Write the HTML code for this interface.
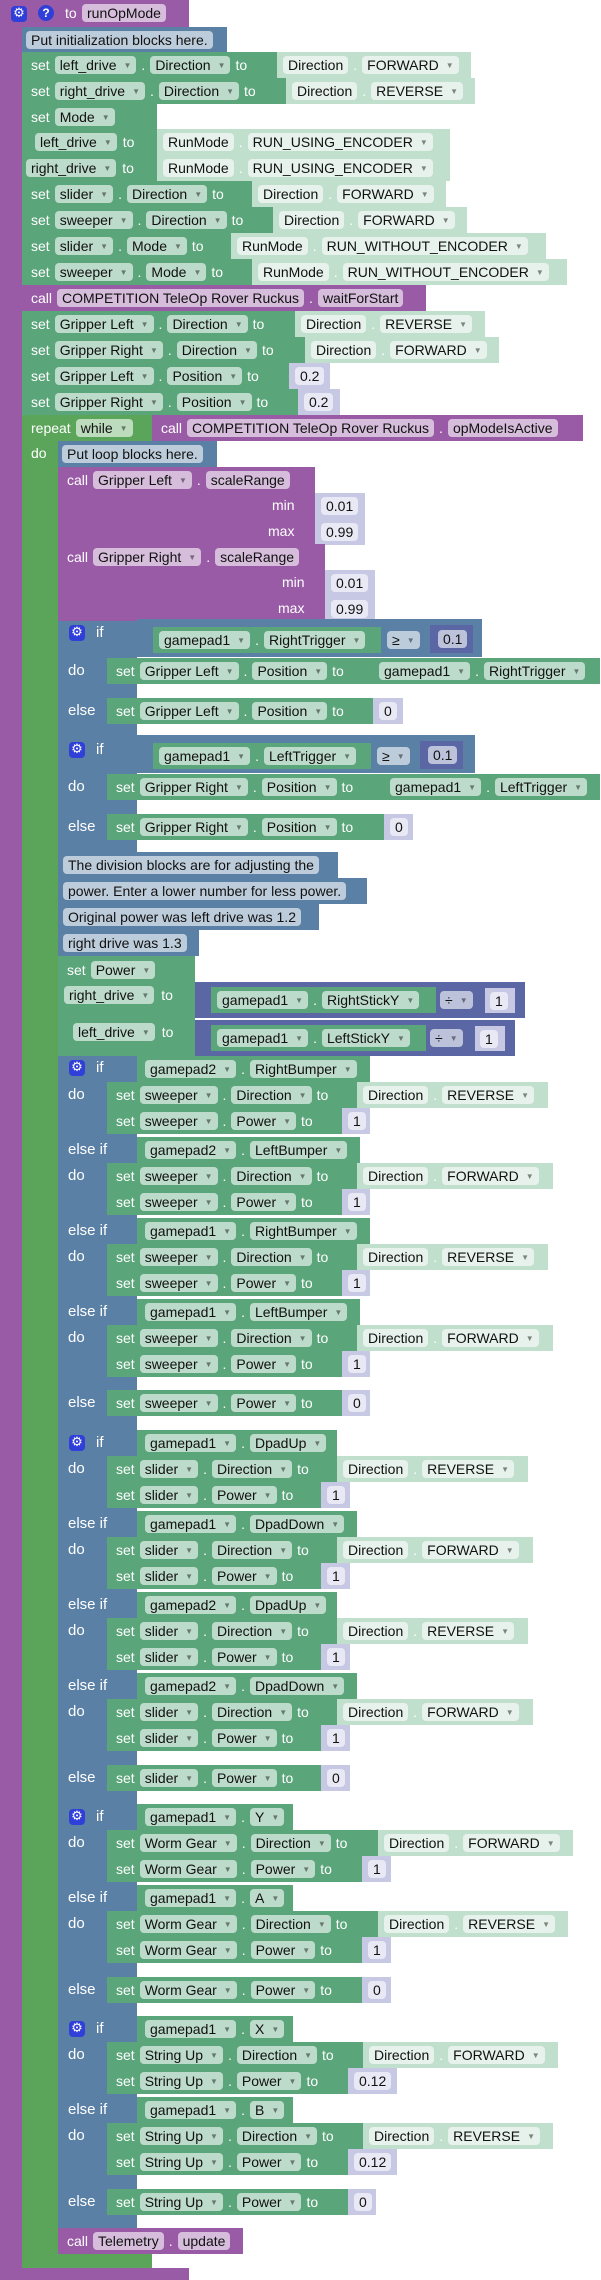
<!DOCTYPE html>
<html><head><meta charset="utf-8"><style>
body{margin:0;width:601px;height:2280px;position:relative;background:#fff;font-family:"Liberation Sans",sans-serif;font-size:14px;overflow:hidden}
.a{position:absolute}
.row{position:absolute;display:flex;height:26px}
.b{display:flex;align-items:center;height:26px;padding:0 5px 0 9px;gap:5px;color:#fff;box-sizing:border-box;white-space:nowrap;flex:none;overflow:hidden}
.b i,.f{font-style:normal;background:rgba(255,255,255,.6);color:#111;border-radius:4px;height:18px;line-height:18px;padding:0 5px;white-space:nowrap}
.b s,.f s{text-decoration:none;font-size:8px;color:rgba(0,0,0,.45);margin-left:7px;vertical-align:2px}
.g{background:#5ba57a}
.lp{background:#5ba55b}
.v{background:#c0dfcc;padding-left:6px}
.n{background:#c6c8e4;padding-left:6px}
.p{background:#995ba5}
.bl{background:#5b80a5}
.m{background:#5b67a5}
.lbl{position:absolute;left:68px;height:26px;line-height:26px;color:#fff;font-size:15px}
.gear{position:absolute;left:69px;width:16px;height:16px;background:#2f3fd8;border-radius:4px;color:#fff;font-size:13px;line-height:16px;text-align:center;font-family:"DejaVu Sans",sans-serif}
.t{position:absolute;color:#fff;height:26px;line-height:26px}
</style></head><body>
<!-- procedure frame -->
<div class="a p" style="left:0;top:0;width:22px;height:2280px"></div>
<div class="a p" style="left:0;top:0;width:189px;height:27px"></div>
<div class="a p" style="left:0;top:2268px;width:189px;height:12px"></div>
<div class="gear" style="left:11px;top:6px">⚙</div>
<div class="a" style="left:38px;top:5px;width:16px;height:16px;border-radius:8px;background:#2f3fd8;color:#fff;font-weight:bold;font-size:12px;line-height:16px;text-align:center">?</div>
<div class="t" style="left:65px;top:0">to</div>
<div class="a f" style="left:82px;top:4px;background:#d6bddb">runOpMode</div>

<div class="row" style="left:22px;top:27px"><div class="b bl" style="width:205px;padding-left:4px"><i>Put initialization blocks here.</i></div></div>

<div class="row" style="left:22px;top:52px"><div class="b g" style="width:255px">set<i>left_drive<s>▼</s></i>.<i>Direction<s>▼</s></i>to</div><div class="b v" style="width:194px"><i>Direction</i>.<i>FORWARD<s>▼</s></i></div></div>
<div class="row" style="left:22px;top:78px"><div class="b g" style="width:264px">set<i>right_drive<s>▼</s></i>.<i>Direction<s>▼</s></i>to</div><div class="b v" style="width:189px"><i>Direction</i>.<i>REVERSE<s>▼</s></i></div></div>
<div class="a g" style="left:22px;top:104px;width:135px;height:77px"></div>
<div class="row" style="left:22px;top:104px"><div class="b g">set<i>Mode<s>▼</s></i></div></div>
<div class="row" style="left:35px;top:129px"><div class="b" style="padding:0;gap:6px"><i>left_drive<s>▼</s></i>to</div></div>
<div class="row" style="left:26px;top:155px"><div class="b" style="padding:0;gap:6px"><i>right_drive<s>▼</s></i>to</div></div>
<div class="row" style="left:157px;top:129px"><div class="b v" style="width:293px"><i>RunMode</i>.<i>RUN_USING_ENCODER<s>▼</s></i></div></div>
<div class="row" style="left:157px;top:155px"><div class="b v" style="width:293px"><i>RunMode</i>.<i>RUN_USING_ENCODER<s>▼</s></i></div></div>
<div class="row" style="left:22px;top:181px"><div class="b g" style="width:230px">set<i>slider<s>▼</s></i>.<i>Direction<s>▼</s></i>to</div><div class="b v" style="width:194px"><i>Direction</i>.<i>FORWARD<s>▼</s></i></div></div>
<div class="row" style="left:22px;top:207px"><div class="b g" style="width:251px">set<i>sweeper<s>▼</s></i>.<i>Direction<s>▼</s></i>to</div><div class="b v" style="width:194px"><i>Direction</i>.<i>FORWARD<s>▼</s></i></div></div>
<div class="row" style="left:22px;top:233px"><div class="b g" style="width:209px">set<i>slider<s>▼</s></i>.<i>Mode<s>▼</s></i>to</div><div class="b v" style="width:315px"><i>RunMode</i>.<i>RUN_WITHOUT_ENCODER<s>▼</s></i></div></div>
<div class="row" style="left:22px;top:259px"><div class="b g" style="width:230px">set<i>sweeper<s>▼</s></i>.<i>Mode<s>▼</s></i>to</div><div class="b v" style="width:315px"><i>RunMode</i>.<i>RUN_WITHOUT_ENCODER<s>▼</s></i></div></div>
<div class="row" style="left:22px;top:285px"><div class="b p" style="width:404px">call<i>COMPETITION TeleOp Rover Ruckus</i>.<i>waitForStart</i></div></div>
<div class="row" style="left:22px;top:311px"><div class="b g" style="width:273px">set<i>Gripper Left<s>▼</s></i>.<i>Direction<s>▼</s></i>to</div><div class="b v" style="width:190px"><i>Direction</i>.<i>REVERSE<s>▼</s></i></div></div>
<div class="row" style="left:22px;top:337px"><div class="b g" style="width:283px">set<i>Gripper Right<s>▼</s></i>.<i>Direction<s>▼</s></i>to</div><div class="b v" style="width:194px"><i>Direction</i>.<i>FORWARD<s>▼</s></i></div></div>
<div class="row" style="left:22px;top:363px"><div class="b g" style="width:267px">set<i>Gripper Left<s>▼</s></i>.<i>Position<s>▼</s></i>to</div><div class="b n" style="width:41px"><i>0.2</i></div></div>
<div class="row" style="left:22px;top:389px"><div class="b g" style="width:276px">set<i>Gripper Right<s>▼</s></i>.<i>Position<s>▼</s></i>to</div><div class="b n" style="width:42px"><i>0.2</i></div></div>

<!-- repeat loop -->
<div class="a lp" style="left:22px;top:415px;width:36px;height:1853px"></div>
<div class="a lp" style="left:22px;top:2253px;width:130px;height:15px"></div>
<div class="row" style="left:22px;top:415px"><div class="b lp" style="width:130px">repeat<i>while<s>▼</s></i></div><div class="b p" style="width:431px">call<i>COMPETITION TeleOp Rover Ruckus</i>.<i>opModeIsActive</i></div></div>
<div class="t" style="left:31px;top:440px">do</div>
<div class="row" style="left:58px;top:441px"><div class="b bl" style="width:159px;padding-left:4px"><i>Put loop blocks here.</i></div></div>

<!-- scaleRange -->
<div class="a p" style="left:58px;top:467px;width:257px;height:77px"></div>
<div class="row" style="left:58px;top:467px"><div class="b p">call<i>Gripper Left<s>▼</s></i>.<i>scaleRange</i></div></div>
<div class="t" style="left:272px;top:492px">min</div><div class="row" style="left:315px;top:493px"><div class="b n" style="width:50px"><i>0.01</i></div></div>
<div class="t" style="left:268px;top:518px">max</div><div class="row" style="left:315px;top:519px"><div class="b n" style="width:50px"><i>0.99</i></div></div>
<div class="a p" style="left:58px;top:544px;width:267px;height:77px"></div>
<div class="row" style="left:58px;top:544px"><div class="b p">call<i>Gripper Right<s>▼</s></i>.<i>scaleRange</i></div></div>
<div class="t" style="left:282px;top:569px">min</div><div class="row" style="left:325px;top:570px"><div class="b n" style="width:50px"><i>0.01</i></div></div>
<div class="t" style="left:278px;top:595px">max</div><div class="row" style="left:325px;top:596px"><div class="b n" style="width:50px"><i>0.99</i></div></div>

<!-- if1 -->
<div class="a bl" style="left:58px;top:621px;width:79px;height:116px"></div>
<div class="a bl" style="left:137px;top:619px;width:345px;height:38px"></div>
<div class="gear" style="top:625px">⚙</div><div class="t" style="left:96px;top:620px;font-size:15px">if</div>
<div class="row" style="left:153px;top:627px"><div class="b g" style="width:228px;padding-left:6px"><i>gamepad1<s>▼</s></i>.<i>RightTrigger<s>▼</s></i></div></div>
<div class="a f" style="left:387px;top:631px;background:#bdccdb">≥<s>▼</s></div>
<div class="a m" style="left:430px;top:625px;width:43px;height:28px"></div><div class="a f" style="left:438px;top:630px;background:#bdc2db">0.1</div>
<div class="lbl" style="top:658px">do</div>
<div class="row" style="left:107px;top:658px"><div class="b g" style="width:266px">set<i>Gripper Left<s>▼</s></i>.<i>Position<s>▼</s></i>to</div><div class="b g" style="width:227px;padding-left:6px"><i>gamepad1<s>▼</s></i>.<i>RightTrigger<s>▼</s></i></div></div>
<div class="lbl" style="top:698px">else</div>
<div class="row" style="left:107px;top:698px"><div class="b g" style="width:266px">set<i>Gripper Left<s>▼</s></i>.<i>Position<s>▼</s></i>to</div><div class="b n" style="width:30px"><i>0</i></div></div>

<!-- if2 -->
<div class="a bl" style="left:58px;top:737px;width:79px;height:115px"></div>
<div class="a bl" style="left:137px;top:735px;width:338px;height:38px"></div>
<div class="gear" style="top:742px">⚙</div><div class="t" style="left:96px;top:737px;font-size:15px">if</div>
<div class="row" style="left:153px;top:743px"><div class="b g" style="width:218px;padding-left:6px"><i>gamepad1<s>▼</s></i>.<i>LeftTrigger<s>▼</s></i></div></div>
<div class="a f" style="left:377px;top:747px;background:#bdccdb">≥<s>▼</s></div>
<div class="a m" style="left:420px;top:741px;width:43px;height:28px"></div><div class="a f" style="left:428px;top:746px;background:#bdc2db">0.1</div>
<div class="lbl" style="top:774px">do</div>
<div class="row" style="left:107px;top:774px"><div class="b g" style="width:277px">set<i>Gripper Right<s>▼</s></i>.<i>Position<s>▼</s></i>to</div><div class="b g" style="width:216px;padding-left:6px"><i>gamepad1<s>▼</s></i>.<i>LeftTrigger<s>▼</s></i></div></div>
<div class="lbl" style="top:814px">else</div>
<div class="row" style="left:107px;top:814px"><div class="b g" style="width:277px">set<i>Gripper Right<s>▼</s></i>.<i>Position<s>▼</s></i>to</div><div class="b n" style="width:29px"><i>0</i></div></div>

<!-- comments -->
<div class="row" style="left:58px;top:852px"><div class="b bl" style="width:280px;padding-left:5px"><i>The division blocks are for adjusting the</i></div></div>
<div class="row" style="left:58px;top:878px"><div class="b bl" style="width:309px;padding-left:5px"><i>power. Enter a lower number for less power.</i></div></div>
<div class="row" style="left:58px;top:904px"><div class="b bl" style="width:261px;padding-left:5px"><i>Original power was left drive was 1.2</i></div></div>
<div class="row" style="left:58px;top:930px"><div class="b bl" style="width:141px;padding-left:5px"><i>right drive was 1.3</i></div></div>

<!-- set Power -->
<div class="a g" style="left:58px;top:956px;width:137px;height:100px"></div>
<div class="row" style="left:58px;top:957px"><div class="b g">set<i>Power<s>▼</s></i></div></div>
<div class="row" style="left:64px;top:982px"><div class="b" style="padding:0;gap:7px"><i>right_drive<s>▼</s></i>to</div></div>
<div class="row" style="left:73px;top:1019px"><div class="b" style="padding:0;gap:7px"><i>left_drive<s>▼</s></i>to</div></div>
<div class="a m" style="left:195px;top:982px;width:330px;height:36px"></div>
<div class="row" style="left:211px;top:987px"><div class="b g" style="width:225px;padding-left:6px"><i>gamepad1<s>▼</s></i>.<i>RightStickY<s>▼</s></i></div></div>
<div class="a f" style="left:440px;top:991px;background:#bdc2db">÷<s>▼</s></div>
<div class="row" style="left:485px;top:988px"><div class="b n" style="width:30px;height:25px;padding-left:5px"><i>1</i></div></div>
<div class="a m" style="left:195px;top:1020px;width:320px;height:36px"></div>
<div class="row" style="left:211px;top:1025px"><div class="b g" style="width:215px;padding-left:6px"><i>gamepad1<s>▼</s></i>.<i>LeftStickY<s>▼</s></i></div></div>
<div class="a f" style="left:430px;top:1029px;background:#bdc2db">÷<s>▼</s></div>
<div class="row" style="left:475px;top:1026px"><div class="b n" style="width:30px;height:25px;padding-left:5px"><i>1</i></div></div>

<!-- if3 sweeper -->
<div class="a bl" style="left:58px;top:1056px;width:79px;height:374px"></div>
<div class="gear" style="top:1060px">⚙</div><div class="t" style="left:96px;top:1055px;font-size:15px">if</div>
<div class="row" style="left:137px;top:1056px"><div class="b g" style="width:233px;padding-left:8px"><i>gamepad2<s>▼</s></i>.<i>RightBumper<s>▼</s></i></div></div>
<div class="lbl" style="top:1082px">do</div>
<div class="row" style="left:107px;top:1082px"><div class="b g" style="width:250px">set<i>sweeper<s>▼</s></i>.<i>Direction<s>▼</s></i>to</div><div class="b v" style="width:191px"><i>Direction</i>.<i>REVERSE<s>▼</s></i></div></div>
<div class="row" style="left:107px;top:1108px"><div class="b g" style="width:235px">set<i>sweeper<s>▼</s></i>.<i>Power<s>▼</s></i>to</div><div class="b n" style="width:28px"><i>1</i></div></div>
<div class="lbl" style="top:1137px">else if</div>
<div class="row" style="left:137px;top:1137px"><div class="b g" style="width:223px;padding-left:8px"><i>gamepad2<s>▼</s></i>.<i>LeftBumper<s>▼</s></i></div></div>
<div class="lbl" style="top:1163px">do</div>
<div class="row" style="left:107px;top:1163px"><div class="b g" style="width:250px">set<i>sweeper<s>▼</s></i>.<i>Direction<s>▼</s></i>to</div><div class="b v" style="width:196px"><i>Direction</i>.<i>FORWARD<s>▼</s></i></div></div>
<div class="row" style="left:107px;top:1189px"><div class="b g" style="width:235px">set<i>sweeper<s>▼</s></i>.<i>Power<s>▼</s></i>to</div><div class="b n" style="width:28px"><i>1</i></div></div>
<div class="lbl" style="top:1218px">else if</div>
<div class="row" style="left:137px;top:1218px"><div class="b g" style="width:233px;padding-left:8px"><i>gamepad1<s>▼</s></i>.<i>RightBumper<s>▼</s></i></div></div>
<div class="lbl" style="top:1244px">do</div>
<div class="row" style="left:107px;top:1244px"><div class="b g" style="width:250px">set<i>sweeper<s>▼</s></i>.<i>Direction<s>▼</s></i>to</div><div class="b v" style="width:191px"><i>Direction</i>.<i>REVERSE<s>▼</s></i></div></div>
<div class="row" style="left:107px;top:1270px"><div class="b g" style="width:235px">set<i>sweeper<s>▼</s></i>.<i>Power<s>▼</s></i>to</div><div class="b n" style="width:28px"><i>1</i></div></div>
<div class="lbl" style="top:1299px">else if</div>
<div class="row" style="left:137px;top:1299px"><div class="b g" style="width:223px;padding-left:8px"><i>gamepad1<s>▼</s></i>.<i>LeftBumper<s>▼</s></i></div></div>
<div class="lbl" style="top:1325px">do</div>
<div class="row" style="left:107px;top:1325px"><div class="b g" style="width:250px">set<i>sweeper<s>▼</s></i>.<i>Direction<s>▼</s></i>to</div><div class="b v" style="width:196px"><i>Direction</i>.<i>FORWARD<s>▼</s></i></div></div>
<div class="row" style="left:107px;top:1351px"><div class="b g" style="width:235px">set<i>sweeper<s>▼</s></i>.<i>Power<s>▼</s></i>to</div><div class="b n" style="width:28px"><i>1</i></div></div>
<div class="lbl" style="top:1390px">else</div>
<div class="row" style="left:107px;top:1390px"><div class="b g" style="width:235px">set<i>sweeper<s>▼</s></i>.<i>Power<s>▼</s></i>to</div><div class="b n" style="width:28px"><i>0</i></div></div>

<!-- if4 slider -->
<div class="a bl" style="left:58px;top:1430px;width:79px;height:373px"></div>
<div class="gear" style="top:1435px">⚙</div><div class="t" style="left:96px;top:1430px;font-size:15px">if</div>
<div class="row" style="left:137px;top:1430px"><div class="b g" style="width:200px;padding-left:8px"><i>gamepad1<s>▼</s></i>.<i>DpadUp<s>▼</s></i></div></div>
<div class="lbl" style="top:1456px">do</div>
<div class="row" style="left:107px;top:1456px"><div class="b g" style="width:230px">set<i>slider<s>▼</s></i>.<i>Direction<s>▼</s></i>to</div><div class="b v" style="width:191px"><i>Direction</i>.<i>REVERSE<s>▼</s></i></div></div>
<div class="row" style="left:107px;top:1482px"><div class="b g" style="width:214px">set<i>slider<s>▼</s></i>.<i>Power<s>▼</s></i>to</div><div class="b n" style="width:29px"><i>1</i></div></div>
<div class="lbl" style="top:1511px">else if</div>
<div class="row" style="left:137px;top:1511px"><div class="b g" style="width:220px;padding-left:8px"><i>gamepad1<s>▼</s></i>.<i>DpadDown<s>▼</s></i></div></div>
<div class="lbl" style="top:1537px">do</div>
<div class="row" style="left:107px;top:1537px"><div class="b g" style="width:230px">set<i>slider<s>▼</s></i>.<i>Direction<s>▼</s></i>to</div><div class="b v" style="width:196px"><i>Direction</i>.<i>FORWARD<s>▼</s></i></div></div>
<div class="row" style="left:107px;top:1563px"><div class="b g" style="width:214px">set<i>slider<s>▼</s></i>.<i>Power<s>▼</s></i>to</div><div class="b n" style="width:29px"><i>1</i></div></div>
<div class="lbl" style="top:1592px">else if</div>
<div class="row" style="left:137px;top:1592px"><div class="b g" style="width:200px;padding-left:8px"><i>gamepad2<s>▼</s></i>.<i>DpadUp<s>▼</s></i></div></div>
<div class="lbl" style="top:1618px">do</div>
<div class="row" style="left:107px;top:1618px"><div class="b g" style="width:230px">set<i>slider<s>▼</s></i>.<i>Direction<s>▼</s></i>to</div><div class="b v" style="width:191px"><i>Direction</i>.<i>REVERSE<s>▼</s></i></div></div>
<div class="row" style="left:107px;top:1644px"><div class="b g" style="width:214px">set<i>slider<s>▼</s></i>.<i>Power<s>▼</s></i>to</div><div class="b n" style="width:29px"><i>1</i></div></div>
<div class="lbl" style="top:1673px">else if</div>
<div class="row" style="left:137px;top:1673px"><div class="b g" style="width:220px;padding-left:8px"><i>gamepad2<s>▼</s></i>.<i>DpadDown<s>▼</s></i></div></div>
<div class="lbl" style="top:1699px">do</div>
<div class="row" style="left:107px;top:1699px"><div class="b g" style="width:230px">set<i>slider<s>▼</s></i>.<i>Direction<s>▼</s></i>to</div><div class="b v" style="width:196px"><i>Direction</i>.<i>FORWARD<s>▼</s></i></div></div>
<div class="row" style="left:107px;top:1725px"><div class="b g" style="width:214px">set<i>slider<s>▼</s></i>.<i>Power<s>▼</s></i>to</div><div class="b n" style="width:29px"><i>1</i></div></div>
<div class="lbl" style="top:1765px">else</div>
<div class="row" style="left:107px;top:1765px"><div class="b g" style="width:214px">set<i>slider<s>▼</s></i>.<i>Power<s>▼</s></i>to</div><div class="b n" style="width:29px"><i>0</i></div></div>

<!-- if5 worm gear -->
<div class="a bl" style="left:58px;top:1803px;width:79px;height:212px"></div>
<div class="gear" style="top:1809px">⚙</div><div class="t" style="left:96px;top:1804px;font-size:15px">if</div>
<div class="row" style="left:137px;top:1804px"><div class="b g" style="width:156px;padding-left:8px"><i>gamepad1<s>▼</s></i>.<i>Y<s>▼</s></i></div></div>
<div class="lbl" style="top:1830px">do</div>
<div class="row" style="left:107px;top:1830px"><div class="b g" style="width:271px">set<i>Worm Gear<s>▼</s></i>.<i>Direction<s>▼</s></i>to</div><div class="b v" style="width:195px"><i>Direction</i>.<i>FORWARD<s>▼</s></i></div></div>
<div class="row" style="left:107px;top:1856px"><div class="b g" style="width:255px">set<i>Worm Gear<s>▼</s></i>.<i>Power<s>▼</s></i>to</div><div class="b n" style="width:29px"><i>1</i></div></div>
<div class="lbl" style="top:1885px">else if</div>
<div class="row" style="left:137px;top:1885px"><div class="b g" style="width:156px;padding-left:8px"><i>gamepad1<s>▼</s></i>.<i>A<s>▼</s></i></div></div>
<div class="lbl" style="top:1911px">do</div>
<div class="row" style="left:107px;top:1911px"><div class="b g" style="width:271px">set<i>Worm Gear<s>▼</s></i>.<i>Direction<s>▼</s></i>to</div><div class="b v" style="width:190px"><i>Direction</i>.<i>REVERSE<s>▼</s></i></div></div>
<div class="row" style="left:107px;top:1937px"><div class="b g" style="width:255px">set<i>Worm Gear<s>▼</s></i>.<i>Power<s>▼</s></i>to</div><div class="b n" style="width:29px"><i>1</i></div></div>
<div class="lbl" style="top:1977px">else</div>
<div class="row" style="left:107px;top:1977px"><div class="b g" style="width:255px">set<i>Worm Gear<s>▼</s></i>.<i>Power<s>▼</s></i>to</div><div class="b n" style="width:29px"><i>0</i></div></div>

<!-- if6 string up -->
<div class="a bl" style="left:58px;top:2015px;width:79px;height:213px"></div>
<div class="gear" style="top:2021px">⚙</div><div class="t" style="left:96px;top:2016px;font-size:15px">if</div>
<div class="row" style="left:137px;top:2016px"><div class="b g" style="width:156px;padding-left:8px"><i>gamepad1<s>▼</s></i>.<i>X<s>▼</s></i></div></div>
<div class="lbl" style="top:2042px">do</div>
<div class="row" style="left:107px;top:2042px"><div class="b g" style="width:256px">set<i>String Up<s>▼</s></i>.<i>Direction<s>▼</s></i>to</div><div class="b v" style="width:195px"><i>Direction</i>.<i>FORWARD<s>▼</s></i></div></div>
<div class="row" style="left:107px;top:2068px"><div class="b g" style="width:241px">set<i>String Up<s>▼</s></i>.<i>Power<s>▼</s></i>to</div><div class="b n" style="width:49px"><i>0.12</i></div></div>
<div class="lbl" style="top:2097px">else if</div>
<div class="row" style="left:137px;top:2097px"><div class="b g" style="width:156px;padding-left:8px"><i>gamepad1<s>▼</s></i>.<i>B<s>▼</s></i></div></div>
<div class="lbl" style="top:2123px">do</div>
<div class="row" style="left:107px;top:2123px"><div class="b g" style="width:256px">set<i>String Up<s>▼</s></i>.<i>Direction<s>▼</s></i>to</div><div class="b v" style="width:190px"><i>Direction</i>.<i>REVERSE<s>▼</s></i></div></div>
<div class="row" style="left:107px;top:2149px"><div class="b g" style="width:241px">set<i>String Up<s>▼</s></i>.<i>Power<s>▼</s></i>to</div><div class="b n" style="width:49px"><i>0.12</i></div></div>
<div class="lbl" style="top:2189px">else</div>
<div class="row" style="left:107px;top:2189px"><div class="b g" style="width:241px">set<i>String Up<s>▼</s></i>.<i>Power<s>▼</s></i>to</div><div class="b n" style="width:28px"><i>0</i></div></div>

<div class="row" style="left:58px;top:2228px"><div class="b p" style="width:185px">call<i>Telemetry</i>.<i>update</i></div></div>
</body></html>
